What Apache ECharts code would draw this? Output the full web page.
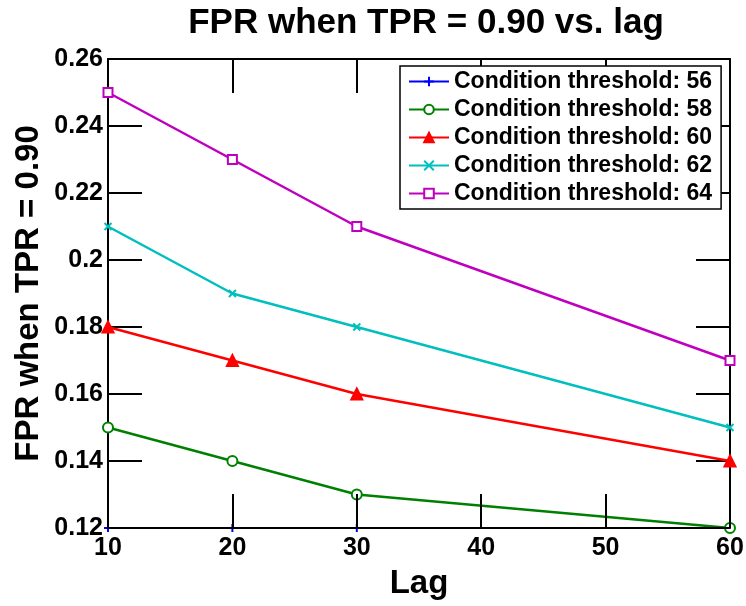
<!DOCTYPE html>
<html>
<head>
<meta charset="utf-8">
<script src="https://cdn.jsdelivr.net/npm/echarts@6/dist/echarts.min.js"></script>
<style>
html, body { margin: 0; padding: 0; background: #fff; }
#chart { width: 746px; height: 606px; }
</style>
</head>
<body>
<div id="chart"></div>
<script>
var lags = [10, 20, 30, 60];
var names = ['Condition threshold: 56', 'Condition threshold: 58', 'Condition threshold: 60',
             'Condition threshold: 62', 'Condition threshold: 64'];
var th56 = [0.12, 0.12, 0.12, 0.12];
var th58 = [0.15, 0.14, 0.13, 0.12];
var th60 = [0.18, 0.17, 0.16, 0.14];
var th62 = [0.21, 0.19, 0.18, 0.15];
var th64 = [0.25, 0.23, 0.21, 0.17];

var plus = 'path://M5,0L5,10M0,5L10,5';
var cross = 'path://M0,0L10,10M10,0L0,10';
var font = 'Liberation Sans';

function pts(vals) {
  return vals.map(function (v, i) { return [lags[i], v]; });
}
function line(name, vals, color, symbol, size, z, fill, w) {
  return {
    name: name, type: 'line', data: pts(vals), z: z,
    symbol: symbol, symbolSize: size, showSymbol: true,
    lineStyle: { color: color, width: w || 2.5 },
    itemStyle: { color: fill ? color : '#fff', borderColor: color, borderWidth: 2 },
    emphasis: { disabled: true }
  };
}

var myChart = echarts.init(document.getElementById('chart'));
var tickStyle = { show: true, inside: true, length: 34, lineStyle: { color: '#000', width: 2 } };
var option = {
  backgroundColor: '#fff',
  animation: false,
  title: {
    text: 'FPR when TPR = 0.90 vs. lag',
    left: 421, top: 1, textAlign: 'center',
    textStyle: { fontFamily: font, fontSize: 35, fontWeight: 'bold', color: '#000' }
  },
  grid: { left: 108, right: 16, top: 59, bottom: 78, outerBoundsMode: 'none', containLabel: false },
  legend: {
    data: names, orient: 'vertical', left: 400, top: 66,
    backgroundColor: '#fff', borderColor: '#000', borderWidth: 1.5,
    padding: [4, 9, 4, 8], itemGap: 5, itemWidth: 40, itemHeight: 12,
    textStyle: { fontFamily: font, fontSize: 23, fontWeight: 'bold', color: '#000' }
  },
  xAxis: [{
    type: 'value', min: 10, max: 60, interval: 10, z: 5,
    name: 'Lag', nameLocation: 'middle', nameGap: 39, nameMoveOverlap: false,
    nameTextStyle: { fontFamily: font, fontSize: 33, fontWeight: 'bold', color: '#000' },
    axisLine: { lineStyle: { color: '#000', width: 2 } },
    axisTick: tickStyle, splitLine: { show: false },
    axisLabel: { fontFamily: font, fontSize: 25, fontWeight: 'bold', color: '#000', margin: 8 }
  }, {
    type: 'value', position: 'top', min: 10, max: 60, interval: 10,
    axisLine: { show: true, lineStyle: { color: '#000', width: 2 } },
    axisTick: tickStyle, axisLabel: { show: false }, splitLine: { show: false }
  }],
  yAxis: [{
    type: 'value', min: 0.12, max: 0.26, interval: 0.02, z: 2,
    name: 'FPR when TPR = 0.90', nameLocation: 'middle', nameGap: 63, nameMoveOverlap: false,
    nameTextStyle: { fontFamily: font, fontSize: 33, fontWeight: 'bold', color: '#000' },
    axisLine: { show: true, lineStyle: { color: '#000', width: 2 } },
    axisTick: tickStyle, splitLine: { show: false },
    axisLabel: { fontFamily: font, fontSize: 25, fontWeight: 'bold', color: '#000', margin: 5 }
  }, {
    type: 'value', position: 'right', min: 0.12, max: 0.26, interval: 0.02,
    axisLine: { show: true, lineStyle: { color: '#000', width: 2 } },
    axisTick: tickStyle, axisLabel: { show: false }, splitLine: { show: false }
  }],
  series: [
    line(names[0], th56, '#0000ff', plus, 8, 1, false, 2),
    line(names[1], th58, '#008000', 'circle', 10, 3, false),
    line(names[2], th60, '#ff0000', 'triangle', 11, 3, true),
    line(names[3], th62, '#00bfbf', cross, 7, 3, false),
    line(names[4], th64, '#bf00bf', 'rect', 9, 3, false)
  ]
};
myChart.setOption(option);
</script>
</body>
</html>
